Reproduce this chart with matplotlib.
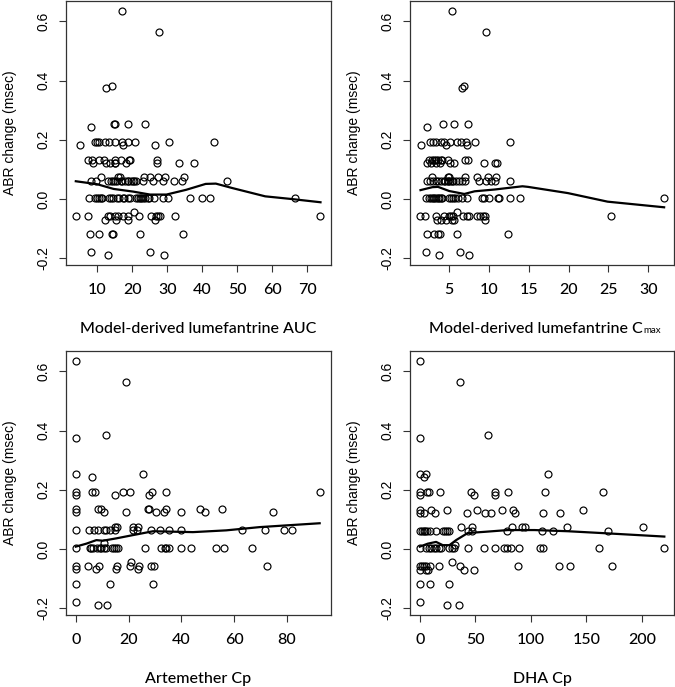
import matplotlib
matplotlib.use("Agg")
import matplotlib.pyplot as plt

# ABR change levels (msec) -> x values of the points sitting on that level
auc_pts = {
    0.636: [17.1],
    0.565: [27.6],
    0.382: [14.3],
    0.374: [12.4],
    0.253: [14.7, 15.1, 18.8, 23.8],
    0.243: [8.1],
    0.191: [9.3, 10.0, 10.6, 12.1, 13.3, 15.0, 17.1, 18.8, 20.7, 30.6, 43.3],
    0.183: [5.0, 17.5, 26.6],
    0.133: [7.3, 8.4, 10.6, 11.9, 15.2, 16.9, 19.2, 19.4, 27.2],
    0.121: [8.7, 12.6, 13.8, 15.0, 15.2, 18.3, 27.2, 33.4, 37.8],
    0.076: [11.2, 15.9, 16.4, 23.5, 25.1, 27.3, 29.5, 34.9],
    0.062: [8.3, 9.7, 13.0, 14.0, 14.5, 15.0, 15.6, 16.7, 17.2, 18.0, 18.7, 18.9,
            19.6, 20.2, 20.6, 21.1, 23.0, 26.0, 28.7, 32.0, 34.2, 47.2],
    0.004: [7.6, 9.5, 10.0, 10.5, 11.0, 11.4, 13.3, 13.9, 14.6, 15.7, 16.2, 17.3,
            17.7, 18.7, 19.4, 21.1, 21.6, 22.1, 22.6, 23.2, 23.8, 24.4, 24.9, 26.3,
            28.9, 30.3, 36.6, 39.9, 42.1, 66.6],
    -0.045: [20.6],
    -0.058: [3.9, 7.4, 13.2, 13.6, 15.1, 16.0, 17.5, 18.9, 22.0, 25.3, 26.8, 27.5,
             28.0, 32.3, 73.8],
    -0.070: [12.2, 15.5, 18.9, 26.5],
    -0.118: [7.9, 10.6, 14.3, 14.6, 22.2, 34.6],
    -0.180: [8.2, 25.1],
    -0.190: [13.2, 29.1],
}
auc_fit_x = [3.9, 10, 14.7, 20.3, 25.1, 29.8, 35.4, 41, 43.9, 48.6, 58, 65.5, 73.8]
auc_fit_y = [0.060, 0.050, 0.034, 0.025, 0.015, 0.015, 0.031, 0.051, 0.052, 0.037,
             0.009, 0.0, -0.011]

cmax_pts = {
    0.636: [5.4],
    0.565: [9.6],
    0.382: [6.9],
    0.374: [6.6],
    0.253: [4.2, 5.6, 7.4],
    0.243: [2.2],
    0.191: [2.6, 3.0, 3.3, 4.0, 4.4, 5.1, 6.0, 6.5, 7.1, 8.2, 12.7],
    0.183: [1.4, 4.6, 7.3],
    0.133: [2.5, 2.8, 3.1, 3.4, 3.6, 4.0, 4.1, 4.8, 7.0, 7.4],
    0.121: [2.2, 2.7, 3.4, 3.9, 5.1, 5.6, 9.4, 10.8, 11.0],
    0.076: [2.8, 4.8, 5.0, 7.0, 8.5, 9.9, 10.9],
    0.062: [2.2, 2.6, 3.0, 3.4, 3.6, 4.0, 4.3, 4.5, 4.8, 4.9, 5.1, 5.3, 5.5, 5.9,
            6.2, 6.6, 7.0, 8.8, 9.6, 10.2, 10.7, 12.7],
    0.004: [2.07, 2.49, 2.70, 2.91, 3.12, 3.33, 3.54, 3.75, 3.96, 4.16, 5.0, 5.21,
            5.42, 5.67, 6.17, 6.67, 7.22, 9.10, 9.43, 10.06, 11.10, 11.27, 12.65,
            13.9, 31.96],
    -0.045: [5.96],
    -0.058: [1.28, 1.99, 3.33, 4.29, 4.92, 5.25, 5.54, 6.71, 7.22, 7.55, 8.55, 8.89,
             9.31, 9.56, 25.3],
    -0.070: [3.45, 3.96, 4.58, 5.33, 5.63, 9.56],
    -0.118: [2.2, 3.04, 3.58, 3.87, 5.96, 12.36],
    -0.180: [2.07, 6.38],
    -0.190: [3.75, 7.55],
}
cmax_fit_x = [1.4, 2.9, 3.6, 5.0, 6.9, 8.2, 10.7, 14.2, 14.9, 19.9, 24.9, 32.0]
cmax_fit_y = [0.030, 0.040, 0.041, 0.027, 0.017, 0.026, 0.032, 0.043, 0.041, 0.020,
              -0.009, -0.028]

arte_pts = {
    0.634: [0.0],
    0.565: [19.2],
    0.386: [11.6],
    0.374: [0.0],
    0.253: [0.0, 25.5],
    0.243: [6.1],
    0.191: [0.0, 6.1, 7.3, 17.9, 20.4, 28.8, 34.3, 92.4],
    0.183: [0.0, 14.8, 27.6],
    0.135: [0.0, 8.5, 9.6, 27.5, 27.8, 34.1, 46.9, 55.5],
    0.125: [0.0, 10.6, 19.2, 30.3, 33.6, 40.0, 49.0, 74.7],
    0.074: [15.0, 15.6, 21.5, 23.6],
    0.063: [0.0, 5.0, 6.9, 8.5, 10.7, 11.4, 12.9, 14.8, 21.5, 23.3, 28.6, 31.8, 35.2,
            40.0, 62.8, 71.8, 78.9, 82.0],
    0.020: [10.7],
    0.004: [0.0, 5.3, 5.9, 6.6, 8.1, 9.1, 9.7, 10.6, 11.6, 13.9, 14.5, 15.1, 16.0,
            26.4, 32.4, 33.7, 34.3, 35.2, 40.0, 43.5, 53.2, 56.2, 66.9],
    -0.045: [21.1],
    -0.058: [0.0, 4.7, 8.7, 15.8, 20.4, 24.0, 28.4, 29.7, 72.4],
    -0.068: [0.0, 7.8, 15.1, 23.6],
    -0.118: [0.0, 12.9, 29.3],
    -0.180: [0.0],
    -0.190: [8.5, 12.0],
}
arte_fit_x = [0, 4, 7.8, 10.3, 15.4, 21.7, 29.3, 34.3, 44.4, 57, 69.7, 92.4]
arte_fit_y = [0.008, 0.018, 0.030, 0.028, 0.036, 0.047, 0.060, 0.059, 0.057, 0.063,
              0.074, 0.087]

dha_pts = {
    0.636: [0.0],
    0.565: [36.6],
    0.385: [61.3],
    0.374: [0.0],
    0.253: [0.0, 5.4, 115.3],
    0.243: [3.7],
    0.191: [0.0, 6.3, 8.1, 18.1, 46.3, 67.9, 79.3, 112.4, 165.1],
    0.183: [0.0, 49.2, 67.9],
    0.133: [0.0, 10.3, 24.1, 51.7, 73.9, 84.3, 146.6],
    0.121: [0.0, 4.2, 13.8, 42.6, 58.3, 64.2, 85.3, 111.4, 126.2],
    0.076: [37.3, 47.1, 83.2, 91.9, 94.3, 132.8, 201.2],
    0.062: [0.0, 2.1, 3.7, 5.1, 6.6, 9.0, 15.0, 20.7, 22.8, 24.7, 26.1, 43.2, 47.1,
            78.7, 110.2, 119.8, 169.4],
    0.012: [31.6],
    0.004: [0.0, 6.0, 8.1, 10.5, 12.6, 15.0, 17.4, 19.5, 26.5, 28.6, 31.0, 43.0, 58.0,
            67.7, 76.1, 78.2, 82.1, 89.3, 108.3, 111.3, 161.8, 220.2],
    -0.045: [29.2],
    -0.058: [0.0, 2.1, 3.6, 6.0, 9.0, 17.4, 36.1, 88.7, 125.4, 135.3, 173.5],
    -0.070: [0.0, 5.4, 7.5, 39.7, 48.7],
    -0.118: [0.0, 9.0, 26.2],
    -0.180: [0.0],
    -0.190: [24.1, 35.2],
}
dha_fit_x = [0, 7.2, 14.7, 20.7, 26.7, 32.7, 43.2, 58.3, 79.3, 103.3, 133.4, 163.3, 220.2]
dha_fit_y = [0.008, 0.018, 0.024, 0.013, 0.013, 0.030, 0.054, 0.058, 0.064, 0.064,
             0.060, 0.054, 0.042]

x_labels = ["Model-derived lumefantrine AUC",
            "Model-derived lumefantrine C",
            "Artemether Cp", "DHA Cp"]
x_ticks = [[10, 20, 30, 40, 50, 60, 70], [5, 10, 15, 20, 25, 30],
           [0, 20, 40, 60, 80], [0, 50, 100, 150, 200]]
x_lims = [(1.1, 76.8), (0.08, 33.24), (-3.7, 96.7), (-8.8, 228.9)]
y_ticks = [-0.2, 0.0, 0.2, 0.4, 0.6]
y_lim = (-0.223, 0.669)

W, H = 675, 687
fig = plt.figure(figsize=(W / 100, H / 100), dpi=100)
boxes = [(66, 1, 331, 265), (410, 1, 674, 265), (66, 351, 331, 615), (410, 351, 674, 615)]
panels = [(auc_pts, auc_fit_x, auc_fit_y), (cmax_pts, cmax_fit_x, cmax_fit_y),
          (arte_pts, arte_fit_x, arte_fit_y), (dha_pts, dha_fit_x, dha_fit_y)]

for i, (pts, fx, fy) in enumerate(panels):
    l, t, r, b = boxes[i]
    ax = fig.add_axes([l / W, 1 - b / H, (r - l) / W, (b - t) / H])
    xs, ys = [], []
    for lvl, vals in pts.items():
        xs += vals
        ys += [lvl] * len(vals)
    ax.plot(xs, ys, 'o', ms=5.0, mfc='none', mec='black', mew=0.85, ls='none')
    ax.plot(fx, fy, '-', color='black', lw=1.6)
    ax.set_xlim(*x_lims[i])
    ax.set_ylim(*y_lim)
    ax.set_xticks(x_ticks[i])
    ax.set_xticklabels([str(v) for v in x_ticks[i]], fontfamily='Lato', fontsize=11.5,
                       fontweight='medium')
    ax.set_yticks(y_ticks)
    ax.set_yticklabels(['-0.2', '0.0', '0.2', '0.4', '0.6'], fontfamily='Liberation Sans',
                       fontsize=10, rotation=90, va='center')
    ax.tick_params(direction='out', length=5, width=0.8, color='#333333')
    ax.tick_params(axis='x', pad=8)
    ax.tick_params(axis='y', pad=6)
    for s in ax.spines.values():
        s.set_linewidth(0.9)
        s.set_color('#333333')
    ax.set_xlabel(x_labels[i], fontfamily='Lato', fontsize=11.5, fontweight='medium')
    ax.xaxis.set_label_coords(0.5, -0.215)
    ax.set_ylabel('ABR change (msec)', fontfamily='Liberation Sans', fontsize=10)
    ax.yaxis.set_label_coords(-0.185, 0.5)
    if i == 1:
        # small lowered "max" subscript after the C
        lab = ax.xaxis.label
        ax.xaxis.set_label_coords(0.475, -0.215)
        fig.canvas.draw()
        bb = lab.get_window_extent()
        fig.text(bb.x1 / W + 0.001, bb.y0 / H + 0.001, 'max', fontfamily='Lato',
                 fontsize=7, ha='left', va='bottom')

fig.savefig('out.png', dpi=100)
